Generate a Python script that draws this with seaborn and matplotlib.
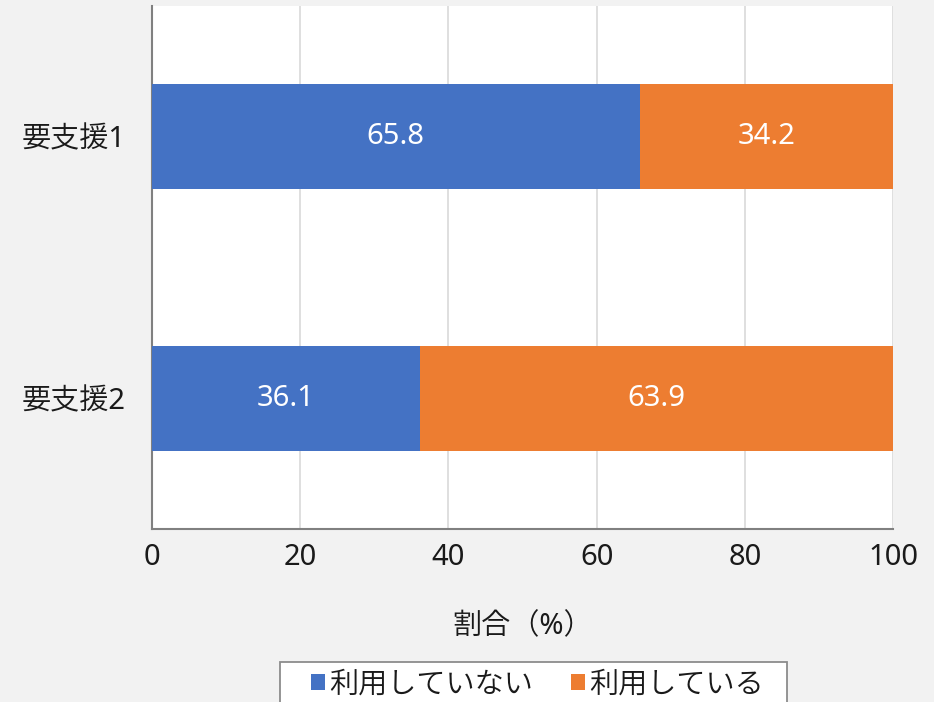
import matplotlib
matplotlib.use("Agg")
import matplotlib.pyplot as plt
from matplotlib.patches import Patch, Rectangle
import pandas as pd
import seaborn as sns

# Care-level groups and usage shares (%)
categories = ["要支援1", "要支援2"]
not_using = [65.8, 36.1]
using = [34.2, 63.9]
series_names = ["利用していない", "利用している"]
x_ticks = [0, 20, 40, 60, 80, 100]
x_label = "割合（%）"

BLUE = "#4472C4"
ORANGE = "#ED7D31"
BG = "#F2F2F2"
TEXT = "#1a1a1a"
FS = 21
WEIGHT = 350

sns.set_theme(style="white")
plt.rcParams["font.family"] = ["Noto Sans", "Noto Sans CJK JP", "DejaVu Sans"]
plt.rcParams["font.weight"] = WEIGHT
plt.rcParams["axes.labelweight"] = WEIGHT

df = pd.DataFrame({
    "group": categories,
    "not_using": not_using,
    "using": using,
})
df["total"] = df["not_using"] + df["using"]

fig = plt.figure(figsize=(9.34, 7.02), dpi=100, facecolor=BG)
ax = fig.add_axes([152 / 934, 1 - 529 / 702, (893 - 152) / 934, (529 - 6) / 702])
ax.set_facecolor("white")

# stacked horizontal bars: cumulative total underneath, first segment on top
sns.barplot(data=df, x="total", y="group", orient="h", color=ORANGE,
            width=0.4, linewidth=0, saturation=1, ax=ax, zorder=2)
sns.barplot(data=df, x="not_using", y="group", orient="h", color=BLUE,
            width=0.4, linewidth=0, saturation=1, ax=ax, zorder=3)

for i, (a, b) in enumerate(zip(df["not_using"], df["using"])):
    ax.text(a / 2, i, f"{a:.1f}", ha="center", va="center", color="white",
            fontsize=FS, zorder=4)
    ax.text(a + b / 2, i, f"{b:.1f}", ha="center", va="center", color="white",
            fontsize=FS, zorder=4)

ax.set_xlim(0, 100)
ax.set_ylim(1.5, -0.5)
ax.set_xticks(x_ticks)
ax.set_xticklabels([str(t) for t in x_ticks])
ax.xaxis.grid(True, color="#D9D9D9", linewidth=1.2, zorder=0)
ax.set_axisbelow(True)
ax.tick_params(axis="both", length=0, labelsize=FS, colors=TEXT)
ax.tick_params(axis="x", pad=10)
ax.tick_params(axis="y", pad=19)
ax.set_ylabel("")
ax.set_xlabel(x_label, fontsize=FS, color=TEXT, labelpad=29)

for side in ["top", "right"]:
    ax.spines[side].set_visible(False)
for side in ["left", "bottom"]:
    ax.spines[side].set_color("#808080")
    ax.spines[side].set_linewidth(1.5)

# legend frame running off the bottom edge
frame = Rectangle((280 / 934, -0.1), (787 - 280) / 934, (702 - 662) / 702 + 0.1,
                  transform=fig.transFigure, facecolor="white",
                  edgecolor="#8c8c8c", linewidth=1.3, zorder=1)
fig.patches.append(frame)

handles = [Patch(facecolor=BLUE, edgecolor="none"),
           Patch(facecolor=ORANGE, edgecolor="none")]
leg = fig.legend(handles, series_names, loc="center",
                 bbox_to_anchor=(537.5 / 934, 1 - 685 / 702), ncol=2,
                 fontsize=FS, frameon=False,
                 handlelength=0.47, handleheight=0.47, handletextpad=0.15,
                 columnspacing=1.3, borderpad=0, borderaxespad=0)
leg.set_zorder(2)
for t in leg.get_texts():
    t.set_color(TEXT)

fig.savefig("out.png", dpi=100, facecolor=BG)
